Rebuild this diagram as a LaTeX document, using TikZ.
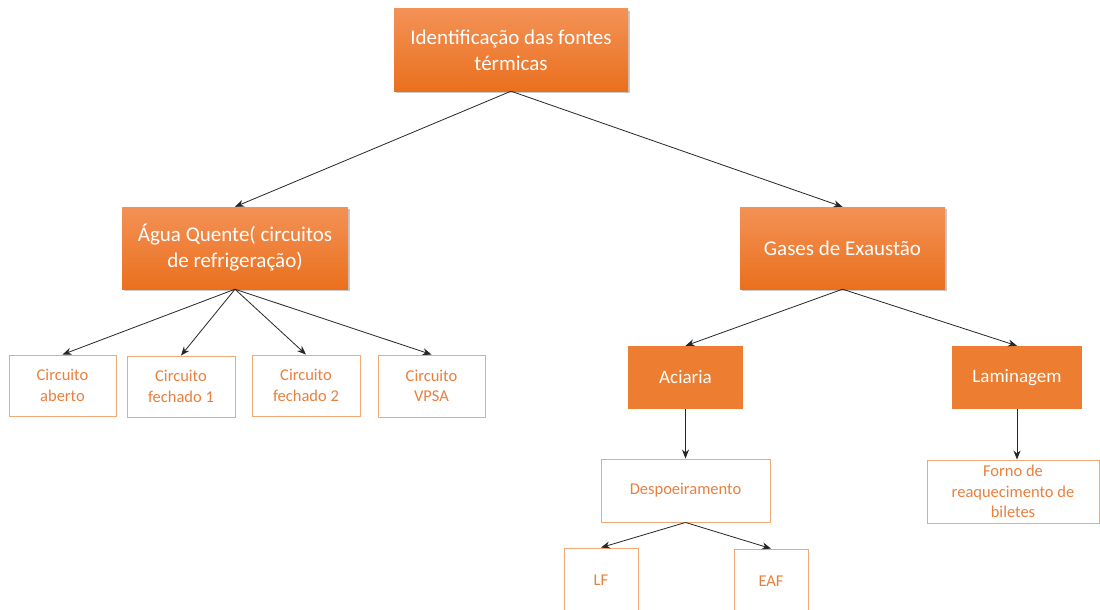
\documentclass[tikz,border=0pt]{standalone}
\usepackage{fontspec}
\setmainfont{Carlito}
\usetikzlibrary{shadows,arrows.meta}
\definecolor{orT}{RGB}{243,145,86}
\definecolor{orB}{RGB}{234,112,30}
\definecolor{orF}{RGB}{237,125,49}
\definecolor{orLine}{RGB}{241,168,118}
\definecolor{orText}{RGB}{232,128,62}
\tikzset{
  big/.style={draw=none, top color=orT, bottom color=orB, text=white, align=center,
    font=\fontsize{21}{26}\selectfont, inner sep=0pt,
    drop shadow={shadow xshift=2pt, shadow yshift=-2pt, opacity=0.35, fill=black!60}},
  flat/.style={fill=orF, draw=none, text=white, align=center, inner sep=0pt,
    font=\fontsize{19}{24}\selectfont},
  small/.style={draw=orLine, line width=0.9pt, fill=white, text=orText, align=center, inner sep=0pt,
    font=\fontsize{16.5}{20.5}\selectfont},
  conn/.style={draw=black!85, line width=0.8pt, -{Stealth[length=9pt,width=7pt]}}
}
\begin{document}
\begin{tikzpicture}[x=1pt,y=-1pt]
\useasboundingbox (0,0) rectangle (1100,610);
\clip (0,0) rectangle (1100,610);
\fill[white] (0,0) rectangle (1100,610);
\node[big, minimum width=234pt, minimum height=82pt] (top) at (511,50) {Identificação das fontes\\térmicas};
\node[big, minimum width=226pt, minimum height=82pt] (agua) at (235,248) {Água Quente( circuitos\\de refrigeração)};
\node[big, minimum width=205pt, minimum height=82pt] (gases) at (842.5,248) {Gases de Exaustão};
\node[small, minimum width=107pt, minimum height=61pt] (c1) at (62.5,385.5) {Circuito\\aberto};
\node[small, minimum width=108pt, minimum height=61pt] (c2) at (181,386.5) {Circuito\\fechado 1};
\node[small, minimum width=108pt, minimum height=61pt] (c3) at (306,385.5) {Circuito\\fechado 2};
\node[small, minimum width=107pt, minimum height=62pt] (c4) at (431.5,386) {Circuito\\VPSA};
\node[flat, minimum width=115pt, minimum height=63pt] (aci) at (685.5,377.5) {Aciaria};
\node[flat, minimum width=130pt, minimum height=63pt] (lam) at (1017,377.5) {Laminagem};
\node[small, minimum width=169pt, minimum height=63pt] (desp) at (685.5,490.5) {Despoeiramento};
\node[small, minimum width=172pt, minimum height=63pt] (forno) at (1013,491.5) {Forno de\\reaquecimento de\\biletes};
\node[small, minimum width=74pt, minimum height=64pt] (lf) at (601,580) {LF};
\node[small, minimum width=74pt, minimum height=64pt] (eaf) at (771,581) {EAF};
\draw[conn] (top.south) -- (agua.north);
\draw[conn] (top.south) -- (gases.north);
\draw[conn] (agua.south) -- (c1.north);
\draw[conn] (agua.south) -- (c2.north);
\draw[conn] (agua.south) -- (c3.north);
\draw[conn] (agua.south) -- (c4.north);
\draw[conn] (gases.south) -- (aci.north);
\draw[conn] (gases.south) -- (lam.north);
\draw[conn] (aci.south) -- (desp.north);
\draw[conn] (lam.south) -- (lam.south |- forno.north);
\draw[conn] (desp.south) -- (lf.north);
\draw[conn] (desp.south) -- (eaf.north);
\end{tikzpicture}
\end{document}
